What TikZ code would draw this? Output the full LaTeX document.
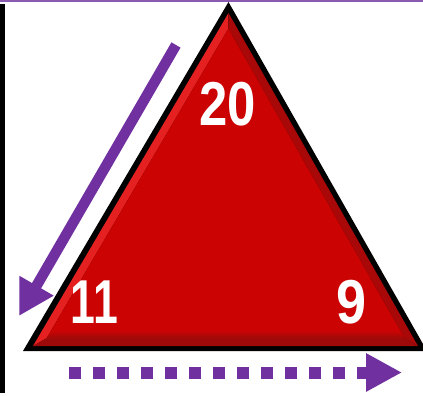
\documentclass[tikz,border=0pt]{standalone}
\usepackage{fontspec}
\setmainfont{Liberation Sans}
\usetikzlibrary{calc,arrows.meta}
\definecolor{arrowpurple}{HTML}{7030A0}
\definecolor{topline}{HTML}{8A5BB0}
\definecolor{mainred}{HTML}{CC0303}
\definecolor{litered}{HTML}{E52020}
\definecolor{darkred}{HTML}{A80808}
\definecolor{bandred}{HTML}{9E0A0A}
\tikzset{
  numlabel/.style={text=white, inner sep=0pt, anchor=base,
    font=\bfseries\fontsize{62}{62}\selectfont},
  purplearrow/.style={draw=arrowpurple, line width=10.5pt, line cap=butt,
    -{Triangle[length=35pt,width=37pt]}},
  dottedarrow/.style={draw=arrowpurple, line width=12pt,
    dash pattern=on 12pt off 12pt, -{Triangle[length=36pt,width=36pt]}},
}
\begin{document}
\begin{tikzpicture}[x=1pt,y=-1pt]
\useasboundingbox (0,0) rectangle (423,396);
\fill[white] (0,0) rectangle (423,396);
% top purple rule and left black bar
\fill[topline] (0,0) rectangle (423,2);
\fill[black] (0,4.5) rectangle (5,393);
% triangle outline
\coordinate (TA) at (228.5,2);
\coordinate (TB) at (23,351);
\coordinate (TC) at (427,351);
\fill[black] (TA) -- (TB) -- (TC) -- cycle;
% inner red body with bevel
\coordinate (A) at (228.5,13);
\coordinate (B) at (33,346);
\coordinate (C) at (418,346);
\coordinate (I) at (226.5,235);
\coordinate (A2) at ($(I)!0.93!(A)$);
\coordinate (B2) at ($(I)!0.93!(B)$);
\coordinate (C2) at ($(I)!0.93!(C)$);
\fill[litered] (A) -- (B) -- (B2) -- (A2) -- cycle;
\fill[darkred] (A) -- (A2) -- (C2) -- (C) -- cycle;
\fill[bandred] (B) -- (C) -- (C2) -- (B2) -- cycle;
\fill[mainred] (A2) -- (B2) -- (C2) -- cycle;
\shade[top color=mainred, bottom color=bandred]
  ($(B2)!0.02!(C2)+(0,-8)$) -- ($(B2)!0.98!(C2)+(0,-8)$) -- (C2) -- (B2) -- cycle;
% labels
\node[numlabel] (n20) at (228,125) {\scalebox{0.82}[1]{20}};
\node[numlabel] (n11) at (94.5,323) {\scalebox{0.72}[1]{11}};
\node[numlabel] (n9) at (351,323.5) {\scalebox{0.87}[1]{9}};
% arrows
\coordinate (s1) at (176,45);
\coordinate (s2) at (19,316);
\draw[purplearrow] (s1) -- (s2);
\coordinate (d1) at (69,372.5);
\coordinate (d2) at (402,372.5);
\draw[dottedarrow] (d1) -- (d2);
\end{tikzpicture}
\end{document}
